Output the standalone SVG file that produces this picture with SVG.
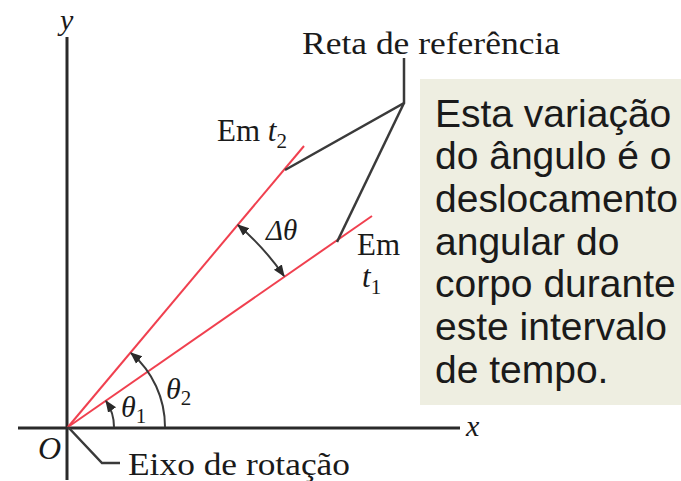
<svg xmlns="http://www.w3.org/2000/svg" width="681" height="481" viewBox="0 0 681 481">
<style>
.ax{stroke:#2a2a2a;stroke-width:3;fill:none}
.red{stroke:#f0404f;stroke-width:2;fill:none}
.ld{stroke:#3a3a3a;stroke-width:2.5;fill:none}
.arc{stroke:#3a3a3a;stroke-width:2;fill:none}
.serif{font-family:"Liberation Serif","DejaVu Serif",serif;fill:#1a1a1a}
.it{font-style:italic}
.box{font-family:"Liberation Sans",Arial,sans-serif;font-size:39px;fill:#1a1a1a}
</style>
<defs>
<marker id="ah2" viewBox="0 0 10 10" refX="9" refY="5" markerWidth="12" markerHeight="12" orient="auto-start-reverse" markerUnits="userSpaceOnUse">
<path d="M0,1 L10,5 L0,9 z" fill="#2a2a2a"/>
</marker>
</defs>
<rect id="bg" x="0" y="0" width="681" height="481" fill="#ffffff"/>
<g id="axes">
<line class="ax" x1="67" y1="37" x2="67" y2="480"/>
<line class="ax" x1="18" y1="428" x2="460" y2="428"/>
<text class="serif it" x="60" y="30" font-size="30">y</text>
<text class="serif it" x="466" y="436" font-size="30">x</text>
<text class="serif it" x="38" y="459" font-size="32">O</text>
</g>
<g id="connectors">
<line class="red" x1="68" y1="427" x2="304" y2="146"/>
<line class="red" x1="68" y1="427" x2="372" y2="216"/>
<polyline class="ld" points="404,58 404,103 285,170"/>
<line class="ld" x1="404" y1="103" x2="337" y2="242"/>
<polyline class="ld" points="68,427 102,463 120,463"/>
<path class="arc" d="M114,427 A46,46 0 0 0 106,401" marker-end="url(#ah2)"/>
<path class="arc" d="M165,427 A97,97 0 0 0 131,353" marker-end="url(#ah2)"/>
<path class="arc" d="M284,276 A264,264 0 0 0 238,225" marker-start="url(#ah2)" marker-end="url(#ah2)"/>
</g>
<g id="labels">
<text class="serif" x="302" y="54" font-size="31" textLength="258" lengthAdjust="spacingAndGlyphs">Reta de referência</text>
<text class="serif" x="217" y="141" font-size="31">Em <tspan class="it">t</tspan><tspan font-size="21" dy="7">2</tspan></text>
<text class="serif" x="357" y="255" font-size="31">Em</text>
<text class="serif it" x="362" y="287" font-size="31">t<tspan font-size="21" dy="7" font-style="normal">1</tspan></text>
<text class="serif it" x="266" y="240" font-size="29">Δθ</text>
<text class="serif it" x="121" y="417" font-size="30">θ<tspan font-size="21" dy="6" font-style="normal">1</tspan></text>
<text class="serif it" x="166" y="399" font-size="30">θ<tspan font-size="21" dy="6" font-style="normal">2</tspan></text>
<text class="serif" x="128" y="475" font-size="31" textLength="222" lengthAdjust="spacingAndGlyphs">Eixo de rotação</text>
</g>
<g id="note">
<rect x="420" y="79" width="261" height="326" fill="#eeeee1"/>
<text class="box" x="435" y="127">Esta variação</text>
<text class="box" x="435" y="169">do ângulo é o</text>
<text class="box" x="435" y="212">deslocamento</text>
<text class="box" x="435" y="255">angular do</text>
<text class="box" x="435" y="297">corpo durante</text>
<text class="box" x="435" y="340">este intervalo</text>
<text class="box" x="435" y="383">de tempo.</text>
</g>
</svg>
